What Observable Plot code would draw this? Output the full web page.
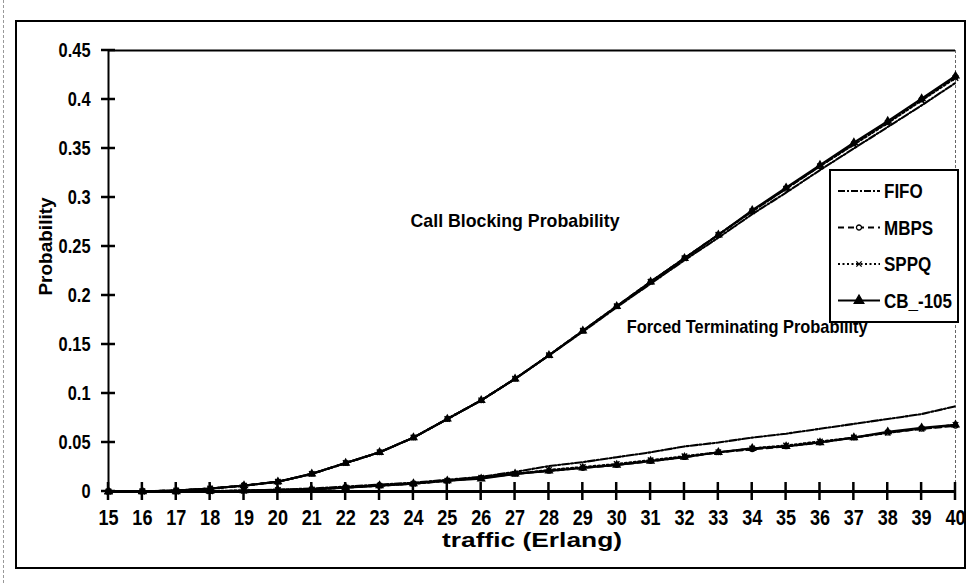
<!DOCTYPE html>
<html><head><meta charset="utf-8">
<script src="https://cdn.jsdelivr.net/npm/d3@7"></script>
<script src="https://cdn.jsdelivr.net/npm/@observablehq/plot@0.6"></script>
<style>
body{margin:0;background:#fff;}
#wrap{position:relative;width:973px;height:583px;overflow:hidden;background:#fff;}
#outer{position:absolute;left:15px;top:20px;width:947px;height:545px;border:2px solid #000;pointer-events:none;}
#scan{position:absolute;left:3px;top:0;width:0;height:583px;border-left:1px dashed #999;}
#overlay{position:absolute;left:0;top:0;pointer-events:none;}
</style></head><body>
<div id="wrap"><div id="chart"></div><div id="outer"></div><div id="scan"></div><svg id="overlay" width="973" height="583"></svg></div>
<script>
// ---- data ----
const traffic = [15,16,17,18,19,20,21,22,23,24,25,26,27,28,29,30,31,32,33,34,35,36,37,38,39,40];
const seriesNames = ["FIFO", "MBPS", "SPPQ", "CB_-105"];
// Call blocking probability
const cbpFIFO = [0,0.0002,0.001,0.003,0.006,0.010,0.018,0.029,0.040,0.055,0.074,0.093,0.115,0.139,0.163,0.188,0.212,0.236,0.259,0.283,0.305,0.328,0.350,0.372,0.394,0.417];
const cbpMBPS = [0,0.0002,0.001,0.003,0.006,0.010,0.018,0.029,0.040,0.055,0.074,0.093,0.115,0.139,0.164,0.189,0.214,0.238,0.262,0.286,0.309,0.332,0.355,0.377,0.400,0.423];
const cbpSPPQ = [0,0.0002,0.001,0.003,0.006,0.010,0.018,0.029,0.040,0.055,0.074,0.093,0.115,0.139,0.164,0.189,0.214,0.238,0.262,0.286,0.309,0.332,0.354,0.376,0.399,0.422];
const cbpCB   = [0,0.0002,0.001,0.003,0.006,0.010,0.018,0.029,0.040,0.055,0.074,0.093,0.115,0.139,0.164,0.189,0.214,0.238,0.262,0.287,0.310,0.333,0.356,0.378,0.401,0.424];
// Forced terminating probability
const ftpFIFO = [0,0,0,0.0005,0.001,0.002,0.003,0.005,0.007,0.009,0.012,0.015,0.020,0.026,0.030,0.035,0.040,0.046,0.050,0.055,0.059,0.064,0.069,0.074,0.079,0.087];
const ftpMBPS = [0,0,0,0.0003,0.0008,0.0015,0.002,0.004,0.006,0.008,0.011,0.014,0.018,0.021,0.024,0.027,0.031,0.035,0.040,0.043,0.046,0.050,0.055,0.060,0.064,0.067];
const ftpSPPQ = [0,0,0,0.0003,0.0008,0.0015,0.002,0.004,0.006,0.008,0.011,0.014,0.018,0.022,0.025,0.028,0.032,0.036,0.040,0.044,0.047,0.051,0.055,0.060,0.064,0.068];
const ftpCB   = [0,0,0,0.0003,0.0008,0.0015,0.002,0.004,0.006,0.008,0.011,0.013,0.018,0.021,0.024,0.027,0.031,0.035,0.040,0.044,0.046,0.050,0.055,0.061,0.065,0.068];
const yTicks = [0,0.05,0.1,0.15,0.2,0.25,0.3,0.35,0.4,0.45];
const yTickLabels = ["0","0.05","0.1","0.15","0.2","0.25","0.3","0.35","0.4","0.45"];
const xTicks = traffic;
const annotationText = ["Call Blocking Probability", "Forced Terminating Probability"];
const annotationX = [27, 33.85];
const annotationY = [0.276, 0.168];

// ---- build table ----
const cbp = {"FIFO": cbpFIFO, "MBPS": cbpMBPS, "SPPQ": cbpSPPQ, "CB_-105": cbpCB};
const ftp = {"FIFO": ftpFIFO, "MBPS": ftpMBPS, "SPPQ": ftpSPPQ, "CB_-105": ftpCB};
const rows = [];
for (const s of seriesNames) {
  traffic.forEach((t, i) => {
    rows.push({series: s, group: "cbp", traffic: t, p: cbp[s][i]});
    rows.push({series: s, group: "ftp", traffic: t, p: ftp[s][i]});
  });
}
const annotations = annotationText.map((t, i) => ({text: t, x: annotationX[i], y: annotationY[i]}));

const font = "'Liberation Sans', Arial, sans-serif";
const dashes = {"FIFO": "7,2,2,2", "MBPS": "6,4", "SPPQ": "2,2.5", "CB_-105": null};
const of = s => rows.filter(d => d.series === s);

const marks = [
  Plot.ruleX([15], {strokeWidth: 2}),
  Plot.ruleY([0.45], {strokeWidth: 2}),
  Plot.ruleX([40], {stroke: "#666", strokeWidth: 1, strokeDasharray: "3,2"}),
  Plot.ruleY([0], {strokeWidth: 3}),
  Plot.axisY({ticks: yTicks, tickSize: 0, tickPadding: 18, tickFormat: d => yTickLabels[yTicks.indexOf(d)], fontSize: 20, fontWeight: "bold", label: null}),
  Plot.axisX({ticks: xTicks, tickSize: 0, tickPadding: 18, tickFormat: d => String(d), fontSize: 22, fontWeight: "bold", label: null}),
];
for (const s of seriesNames) {
  marks.push(Plot.line(of(s), {x: "traffic", y: "p", z: "group", stroke: "black", strokeWidth: 2.1, strokeDasharray: dashes[s]}));
}
marks.push(Plot.dot(of("MBPS"), {x: "traffic", y: "p", symbol: "circle", r: 2.3, stroke: "black", fill: "white", strokeWidth: 1.2}));
marks.push(Plot.dot(of("SPPQ"), {x: "traffic", y: "p", symbol: "times", r: 2.6, stroke: "black", strokeWidth: 1.4}));
marks.push(Plot.dot(of("CB_-105"), {x: "traffic", y: "p", symbol: "triangle", r: 3.4, fill: "black"}));
marks.push(Plot.text(annotations, {x: "x", y: "y", text: "text", fontSize: 19, fontWeight: "bold"}));
marks.push(Plot.text(["traffic (Erlang)"], {frameAnchor: "bottom", dy: 55, fontSize: 20, fontWeight: "bold"}));
marks.push(Plot.text(["Probability"], {x: () => 15, y: () => 0.25, rotate: -90, dx: -63, fontSize: 19, fontWeight: "bold"}));

const chart = Plot.plot({
  width: 973, height: 583,
  marginLeft: 108, marginRight: 18, marginTop: 50, marginBottom: 92,
  x: {domain: [15, 40], axis: null},
  y: {domain: [0, 0.45], axis: null},
  style: {fontFamily: font, color: "black", background: "white", overflow: "visible"},
  marks
});
document.getElementById("chart").appendChild(chart);

// condensed (Arial Narrow–like) look: squeeze glyphs horizontally
const widths = {"Call Blocking Probability": 209, "Forced Terminating Probability": 241, "traffic (Erlang)": 180};
function squeeze(el, ratio) {
  const t = el.textContent;
  if (t === "Probability") return;
  const w = el.getComputedTextLength();
  if (!w) return;
  el.setAttribute("textLength", widths[t] || w * ratio);
  el.setAttribute("lengthAdjust", "spacingAndGlyphs");
}
chart.querySelectorAll("text").forEach(el => squeeze(el, 0.82));

// ---- crossing tick marks, positioned with the chart's own scales ----
const ov = d3.select("#overlay");
const xs = chart.scale("x"), ys = chart.scale("y");
const x0 = xs.apply(15), y0 = ys.apply(0);
yTicks.forEach(t => {
  const y = ys.apply(t);
  ov.append("line").attr("x1", x0 - 7).attr("x2", x0 + 7).attr("y1", y).attr("y2", y)
    .attr("stroke", "black").attr("stroke-width", 2.5);
});
xTicks.forEach(t => {
  const x = xs.apply(t);
  ov.append("line").attr("x1", x).attr("x2", x).attr("y1", y0 - 9).attr("y2", y0 + 9)
    .attr("stroke", "black").attr("stroke-width", 2.5);
});

// ---- legend ----
ov.append("rect").attr("x", 830).attr("y", 170).attr("width", 128).attr("height", 152)
  .attr("fill", "white").attr("stroke", "black").attr("stroke-width", 2);
seriesNames.forEach((s, i) => {
  const cy = 191 + i * 36.5;
  ov.append("line").attr("x1", 838).attr("x2", 880).attr("y1", cy).attr("y2", cy)
    .attr("stroke", "black").attr("stroke-width", 1.8).attr("stroke-dasharray", dashes[s]);
  const sym = {"MBPS": d3.symbolCircle, "SPPQ": d3.symbolTimes, "CB_-105": d3.symbolTriangle}[s];
  if (sym) {
    const size = s === "CB_-105" ? 40 : 20;
    ov.append("path").attr("d", d3.symbol(sym, size)()).attr("transform", `translate(859,${cy})`)
      .attr("fill", s === "CB_-105" ? "black" : (s === "MBPS" ? "white" : "none"))
      .attr("stroke", "black").attr("stroke-width", 1.3);
  }
  ov.append("text").attr("class", "lg").attr("x", 884).attr("y", cy).attr("dy", "0.35em").text(s)
    .attr("font-family", font).attr("font-weight", "bold").attr("font-size", 20);
});
document.querySelectorAll("#overlay text.lg").forEach(el => squeeze(el, 0.85));
</script>
</body></html>
